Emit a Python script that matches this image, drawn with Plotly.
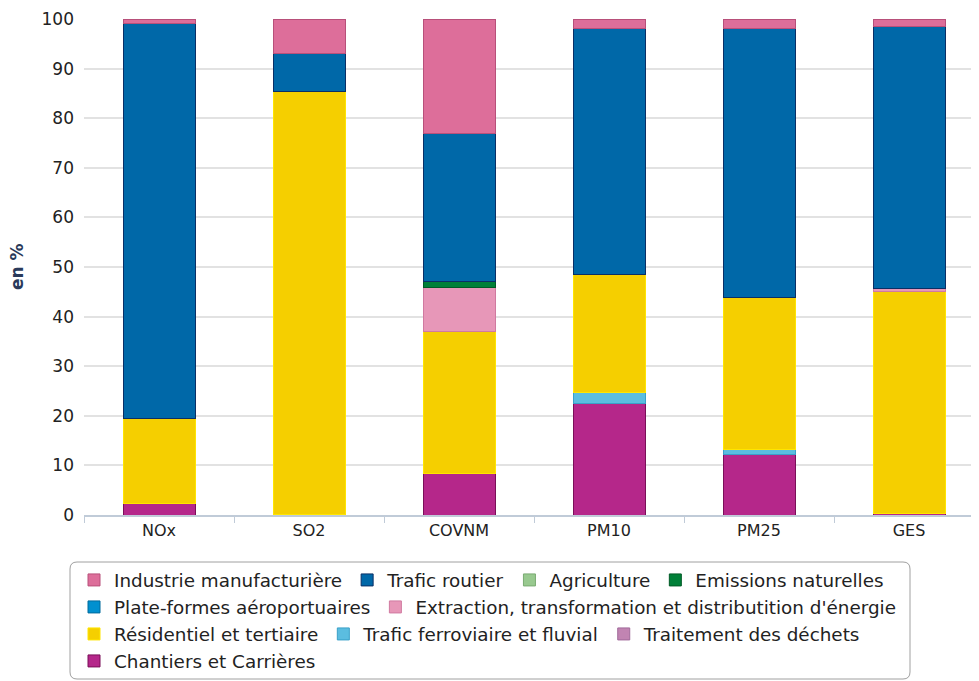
import plotly.graph_objects as go

categories = ["NOx", "SO2", "COVNM", "PM10", "PM25", "GES"]

# Legend order (top of stack first)
series_names = [
    "Industrie manufacturière",
    "Trafic routier",
    "Agriculture",
    "Emissions naturelles",
    "Plate-formes aéroportuaires",
    "Extraction, transformation et distributition d'énergie",
    "Résidentiel et tertiaire",
    "Trafic ferroviaire et fluvial",
    "Traitement des déchets",
    "Chantiers et Carrières",
]

industrie = [1.0, 7.0, 23.0, 2.0, 2.0, 1.6]
trafic_routier = [79.6, 7.6, 30.0, 49.6, 54.2, 52.7]
agriculture = [0.0, 0.0, 0.0, 0.0, 0.0, 0.0]
emissions_naturelles = [0.0, 0.0, 1.1, 0.0, 0.0, 0.0]
plateformes = [0.0, 0.0, 0.0, 0.0, 0.0, 0.1]
extraction = [0.0, 0.0, 8.9, 0.0, 0.0, 0.5]
residentiel = [17.0, 85.2, 28.6, 23.7, 30.5, 44.7]
ferroviaire = [0.0, 0.0, 0.0, 2.2, 1.2, 0.0]
dechets = [0.0, 0.0, 0.1, 0.0, 0.0, 0.0]
chantiers = [2.4, 0.2, 8.3, 22.5, 12.1, 0.4]

series_values = [industrie, trafic_routier, agriculture, emissions_naturelles,
                 plateformes, extraction, residentiel, ferroviaire, dechets, chantiers]

colors = ["#dd6e9a", "#0068a8", "#98c98f", "#008038", "#0090cf",
          "#e797b8", "#f5cf00", "#5bbde0", "#c184b2", "#b5278a"]
line_colors = ["#b8507a", "#0a2f66", "#7aab72", "#005a26", "#006a9c",
               "#d07aa0", "#ffe500", "#3aa0c8", "#a0699a", "#7a0f58"]

# legend row of each series
legend_rows = ["legend", "legend", "legend", "legend",
               "legend2", "legend2",
               "legend3", "legend3", "legend3",
               "legend4"]

fig = go.Figure()
n = len(series_names)
for i in reversed(range(n)):
    fig.add_trace(go.Bar(
        x=categories,
        y=series_values[i],
        name=series_names[i],
        marker=dict(color=colors[i], line=dict(color=line_colors[i], width=1)),
        width=0.48,
        legend=legend_rows[i],
        legendrank=i + 1,
    ))

# figure geometry (the page adds an 8px body margin)
OFF = 8
W, H = 979 - OFF, 681 - OFF
ml, mr, mt, mb = 84 - OFF, 0, 19 - OFF, H - (515 - OFF)
pw = W - ml - mr
ph = H - mt - mb


def px_to_paper_x(px):
    return (px - OFF - ml) / pw


def px_to_paper_y(py):
    return (H - mb - (py - OFF)) / ph


legend_font = dict(family="DejaVu Sans", size=18.35, color="#222222")
row_centers = [580, 607, 634, 661]
legend_defs = {}
for k, name in enumerate(["legend", "legend2", "legend3", "legend4"]):
    legend_defs[name] = dict(
        orientation="h",
        xanchor="left",
        yanchor="middle",
        x=px_to_paper_x(74),
        y=px_to_paper_y(row_centers[k]),
        bgcolor="rgba(0,0,0,0)",
        borderwidth=0,
        font=legend_font,
        traceorder="normal",
        itemwidth=30,
    )

# rounded legend frame
x0, x1 = px_to_paper_x(70), px_to_paper_x(910)
y0, y1 = px_to_paper_y(679), px_to_paper_y(562)
rx, ry = 7 / pw, 7 / ph
frame_path = (
    f"M {x0+rx},{y1} L {x1-rx},{y1} Q {x1},{y1} {x1},{y1-ry} "
    f"L {x1},{y0+ry} Q {x1},{y0} {x1-rx},{y0} "
    f"L {x0+rx},{y0} Q {x0},{y0} {x0},{y0+ry} "
    f"L {x0},{y1-ry} Q {x0},{y1} {x0+rx},{y1} Z"
)

fig.update_layout(
    width=W,
    height=H,
    barmode="stack",
    paper_bgcolor="white",
    plot_bgcolor="white",
    margin=dict(l=ml, r=mr, t=mt, b=mb, autoexpand=False),
    font=dict(family="DejaVu Sans", color="#333333"),
    showlegend=True,
    xaxis=dict(
        type="category",
        range=[-0.5, -0.5 + pw / 150.0],
        showgrid=False,
        showline=True,
        linecolor="#c0cbd8",
        linewidth=1.5,
        ticks="outside",
        tickson="boundaries",
        ticklen=6,
        tickcolor="#c0cbd8",
        tickfont=dict(family="DejaVu Sans", size=16, color="#222222"),
    ),
    yaxis=dict(
        range=[0, 100],
        tickvals=[0, 10, 20, 30, 40, 50, 60, 70, 80, 90, 100],
        showgrid=True,
        gridcolor="#e2e2e2",
        gridwidth=1.5,
        zeroline=False,
        showline=False,
        tickfont=dict(family="DejaVu Sans", size=17, color="#222222"),
        ticklabelstandoff=9,
    ),
    shapes=[
        dict(type="path", xref="paper", yref="paper", path=frame_path,
             line=dict(color="#a0a0a0", width=1), fillcolor="rgba(0,0,0,0)",
             layer="below"),
    ],
    annotations=[
        dict(
            text="<b>en %</b>",
            xref="paper", yref="paper",
            x=0, y=0.5,
            xanchor="center", yanchor="middle",
            xshift=-67,
            textangle=-90,
            showarrow=False,
            font=dict(family="DejaVu Sans", size=17, color="#2a3a5a"),
        )
    ],
    **legend_defs,
)

fig.write_html("out.html")
